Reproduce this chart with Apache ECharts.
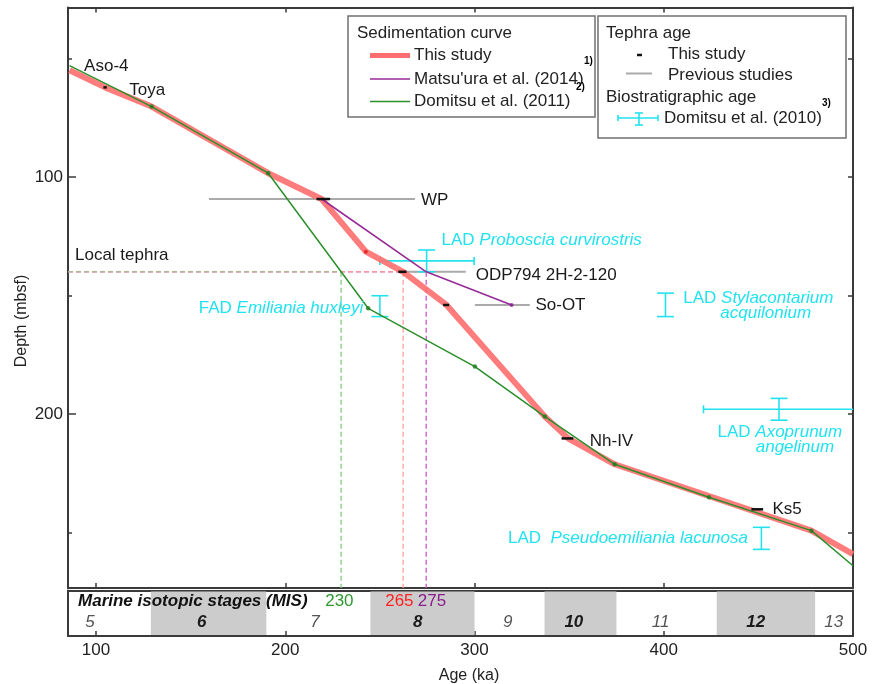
<!DOCTYPE html>
<html><head><meta charset="utf-8">
<script src="https://cdn.jsdelivr.net/npm/echarts@6/dist/echarts.min.js"></script>
<style>html,body{margin:0;padding:0;background:#fff}#c{width:874px;height:684px}</style>
</head><body><div id="c"></div>
<script>
// ---------------- data ----------------
const ageRange = [85.2, 500];
const depthRange = [28.5, 273.4];
const ageTicks = [100, 200, 300, 400];
const ageTickLabels = [100, 200, 300, 400, 500];
const depthMajorTicks = [100, 200];
const depthMinorTicks = [50, 150, 250];
const depthRightTicks = [50, 100, 150, 200, 250];

// sedimentation curves [age ka, depth mbsf]
const thisStudyCurve = [[86,55],[104.8,62.2],[129.4,70.3],[191,98.4],[219.2,109.3],[242.6,131.5],[262.3,140],[285.2,154],[337.2,201.1],[349.5,210.3],[374.1,221.2],[478,249.2],[500,259.1]];
const matsuuraCurve = [[219.2,109.3],[274.5,140],[319.6,154]];
const domitsuCurve = [[86,53],[129.4,70.3],[191,98.4],[243.8,155.4],[300.2,180],[337.2,201.1],[374.1,221.2],[423.9,235.1],[478,249.2],[500,264]];

// tephra ages, this study: [age, depth, half-range]
const tephraThisStudy = [[104.8,62.2,0.9],[220.1,109.3,3.6],[261.9,140,2.2],[285,154,1.6],[349.1,210.3,3.1],[449.4,240.2,3.1]];
// tephra ages, previous studies: [ageFrom, ageTo, depth]
const tephraPrevious = [[159.7,268.5,109.3],[262,295.4,140],[300.2,329.2,154]];
const tephraNames = ['Aso-4','Toya','WP','ODP794 2H-2-120','So-OT','Nh-IV','Ks5'];
const tephraLabelAge = [93.7,117.6,271.7,300.7,332.2,360.9,457.4];
const tephraLabelDepth = [53.5,63.3,109.7,141.4,154.3,211.4,240.2];

// local tephra
const localTephraDepth = 140;
const localTephraLabel = ['Local tephra', 88.9, 132.9];
const crossAges = [229.5, 262.3, 274.5];
const crossLabels = ['230','265','275'];
const crossLabelAges = [228.6, 260.3, 277.5];

// biostratigraphic ages: [age, depth, ageLo, ageHi, depthLo, depthHi]
const bioEvents = [
  [274.7,135.4,250,299.8,130.8,140],
  [250,154.5,250,250,150.1,158.9],
  [400.9,154,400.9,400.9,149,158.9],
  [460.9,198,421,500,193.4,202.6],
  [451.6,252.4,451.6,451.6,247.8,257.1]
];
const bioPrefix = ['LAD ','FAD ','LAD ','','LAD ','','LAD  '];
const bioTaxon = ['Proboscia curvirostris','Emiliania huxleyi','Stylacontarium','acquilonium','Axoprunum','angelinum','Pseudoemiliania lacunosa'];
const bioLabelAge = [282.6,241.2,410.3,429.9,428.4,448.6,444.5];
const bioLabelDepth = [126.6,155.2,151.2,157.5,207.9,214,252.4];
const bioLabelAlign = ['left','right','left','left','left','left','right'];

// marine isotope stages
const misShaded = [[129,190],[245,300],[337,375],[428,480]];
const misNames = ['5','6','7','8','9','10','11','12','13'];
const misCenters = [96.8,155.8,215.7,270,317.6,352.5,398.3,448.6,489.8];

// ---------------- chart ----------------
const FONT = "'Liberation Sans', Arial, Helvetica, sans-serif";
const AX = '#3a3a3a';
const RED = '#ff6e6e', PURPLE = '#982a98', GREEN = '#2b8f2b', GRAY = '#aaaaaa', CYAN = '#22e2f0';
const chart = echarts.init(document.getElementById('c'), null, {renderer:'canvas'});

function segSeries(segs, color, width, dash, z, opacity) {
  return {
    type:'custom', xAxisIndex:0, yAxisIndex:0, z:z, silent:true, data:segs,
    renderItem:(p, api)=>{
      const a = api.coord([api.value(0), api.value(1)]);
      const b = api.coord([api.value(2), api.value(3)]);
      return {type:'line', shape:{x1:a[0],y1:a[1],x2:b[0],y2:b[1]},
        style:{stroke:color, lineWidth:width, lineDash:dash||null, opacity:opacity==null?1:opacity}};
    }
  };
}

const crossColors = ['#7fc87f','#ff9c9c','#cc55cc'];
const crossSeries = [];
// draw purple first, green last so the overlapping horizontal dashes blend
[2,1,0].forEach(i=>{
  const a = crossAges[i];
  crossSeries.push(segSeries([[ageRange[0], localTephraDepth, a, localTephraDepth]], crossColors[i], 1.5, [5,3], 1, i===0?0.55:0.8));
  crossSeries.push(segSeries([[a, localTephraDepth, a, depthRange[1]]], crossColors[i], 1.5, [5,3], 1, 0.85));
});

const xBase = {type:'value', min:ageRange[0], max:ageRange[1], splitLine:{show:false},
  axisLine:{show:true, onZero:false, lineStyle:{color:AX, width:2}},
  axisTick:{show:true, inside:true, length:5, customValues:ageTicks, lineStyle:{color:AX, width:1.5}},
  axisLabel:{show:false}};
const yBase = {type:'value', inverse:true, min:depthRange[0], max:depthRange[1], splitLine:{show:false},
  axisLine:{show:true, onZero:false, lineStyle:{color:AX, width:2}},
  axisTick:{show:true, inside:true, length:5, lineStyle:{color:AX, width:1.5}},
  axisLabel:{show:false}};

const option = {
  animation:false,
  backgroundColor:'#fff',
  grid:[
    {left:68, top:7.5, width:785, height:580.5},
    {left:68, top:590.5, width:785, height:45.5}
  ],
  xAxis:[
    Object.assign({}, xBase, {gridIndex:0, position:'bottom'}),
    Object.assign({}, xBase, {gridIndex:0, position:'top'}),
    Object.assign({}, xBase, {gridIndex:1, position:'bottom',
      axisLabel:{show:true, customValues:ageTickLabels, fontSize:17, margin:6, color:'#222', fontFamily:FONT}}),
    Object.assign({}, xBase, {gridIndex:1, position:'top', axisTick:{show:false}})
  ],
  yAxis:[
    Object.assign({}, yBase, {gridIndex:0, position:'left',
      axisTick:{show:true, inside:true, length:8, customValues:depthMajorTicks, lineStyle:{color:AX, width:1.5}},
      axisLabel:{show:true, customValues:depthMajorTicks, fontSize:17, margin:5, color:'#222', fontFamily:FONT}}),
    Object.assign({}, yBase, {gridIndex:0, position:'left', axisLine:{show:false},
      axisTick:{show:true, inside:true, length:4, customValues:depthMinorTicks, lineStyle:{color:AX, width:1.5}}}),
    Object.assign({}, yBase, {gridIndex:0, position:'right',
      axisTick:{show:true, inside:true, length:5, customValues:depthRightTicks, lineStyle:{color:AX, width:1.5}}}),
    {gridIndex:1, type:'value', min:0, max:1, inverse:true, position:'left', splitLine:{show:false},
      axisLine:{show:true, lineStyle:{color:AX, width:2}}, axisTick:{show:false}, axisLabel:{show:false}},
    {gridIndex:1, type:'value', min:0, max:1, inverse:true, position:'right', splitLine:{show:false},
      axisLine:{show:true, lineStyle:{color:AX, width:2}}, axisTick:{show:false}, axisLabel:{show:false}}
  ],
  series:[
    // MIS shading
    {type:'custom', xAxisIndex:2, yAxisIndex:3, silent:true, z:1, data:misShaded,
      renderItem:(p, api)=>{
        const a = api.coord([api.value(0), 0]), b = api.coord([api.value(1), 1]);
        return {type:'rect', shape:{x:a[0], y:a[1]+1, width:b[0]-a[0], height:b[1]-a[1]-2}, style:{fill:'#cccccc'}};
      }},
    // MIS numbers
    {type:'custom', xAxisIndex:2, yAxisIndex:3, silent:true, z:3,
      data:misCenters.map((c,i)=>[c, i]),
      renderItem:(p, api)=>{
        const i = api.value(1);
        const pt = api.coord([api.value(0), 0.69]);
        const even = (parseInt(misNames[i]) % 2) === 0;
        return {type:'text', x:pt[0], y:pt[1], style:{text:misNames[i], fill: even ? '#1a1a1a' : '#555',
          fontSize:17, fontFamily:FONT, fontStyle:'italic', fontWeight: even ? 'bold' : 'normal', align:'center', verticalAlign:'middle'}};
      }},
    // MIS title and crossing ages
    {type:'custom', xAxisIndex:2, yAxisIndex:3, silent:true, z:3,
      data:[[ageRange[0], -1]].concat(crossLabelAges.map((a,i)=>[a, i])),
      renderItem:(p, api)=>{
        const i = api.value(1);
        if (i < 0) {
          const pt = api.coord([90.5, 0.23]);
          return {type:'text', x:pt[0], y:pt[1], style:{text:'Marine isotopic stages (MIS)', fill:'#111', fontSize:17,
            fontFamily:FONT, fontStyle:'italic', fontWeight:'bold', align:'left', verticalAlign:'middle'}};
        }
        const pt = api.coord([api.value(0), 0.23]);
        const cols = ['#2e9a2e','#ff2020','#8b1a8b'];
        return {type:'text', x:pt[0], y:pt[1], style:{text:crossLabels[i], fill:cols[i], fontSize:17,
          fontFamily:FONT, align:'center', verticalAlign:'middle'}};
      }},
    // local tephra dashed lines
    ...crossSeries,
    // previous studies tephra
    segSeries(tephraPrevious.map(t=>[t[0], t[2], t[1], t[2]]), GRAY, 2, null, 2),
    // biostratigraphic error bars
    {type:'custom', xAxisIndex:0, yAxisIndex:0, silent:true, z:2, data:bioEvents,
      renderItem:(p, api)=>{
        const age=api.value(0), dep=api.value(1), aLo=api.value(2), aHi=api.value(3), dLo=api.value(4), dHi=api.value(5);
        const kids = [];
        const st = {stroke:CYAN, lineWidth:1.6};
        if (aHi > aLo) {
          const l = api.coord([aLo, dep]), r = api.coord([aHi, dep]);
          kids.push({type:'line', shape:{x1:l[0],y1:l[1],x2:r[0],y2:r[1]}, style:st});
          kids.push({type:'line', shape:{x1:l[0],y1:l[1]-4,x2:l[0],y2:l[1]+4}, style:st});
          if (aHi < ageRange[1]) kids.push({type:'line', shape:{x1:r[0],y1:r[1]-4,x2:r[0],y2:r[1]+4}, style:st});
        }
        const t = api.coord([age, dLo]), b = api.coord([age, dHi]);
        kids.push({type:'line', shape:{x1:t[0],y1:t[1],x2:b[0],y2:b[1]}, style:st});
        kids.push({type:'line', shape:{x1:t[0]-8.5,y1:t[1],x2:t[0]+8.5,y2:t[1]}, style:st});
        kids.push({type:'line', shape:{x1:b[0]-8.5,y1:b[1],x2:b[0]+8.5,y2:b[1]}, style:st});
        return {type:'group', children:kids};
      }},
    // curves
    {type:'line', xAxisIndex:0, yAxisIndex:0, z:3, data:thisStudyCurve, symbol:'none', silent:true,
      lineStyle:{color:RED, width:6, opacity:0.9}},
    {type:'line', xAxisIndex:0, yAxisIndex:0, z:4, data:matsuuraCurve, symbol:'none', silent:true,
      lineStyle:{color:PURPLE, width:1.6}},
    {type:'line', xAxisIndex:0, yAxisIndex:0, z:4, data:domitsuCurve, symbol:'none', silent:true,
      lineStyle:{color:GREEN, width:1.5}},
    {type:'scatter', xAxisIndex:0, yAxisIndex:0, z:5, data:domitsuCurve.slice(1,-1), symbolSize:4.5, silent:true,
      itemStyle:{color:'#1d7a1d'}},
    {type:'scatter', xAxisIndex:0, yAxisIndex:0, z:5, data:[matsuuraCurve[matsuuraCurve.length-1]], symbolSize:4, silent:true,
      itemStyle:{color:'#8b1a8b'}},
    {type:'scatter', xAxisIndex:0, yAxisIndex:0, z:5, data:[thisStudyCurve[5]], symbolSize:4, silent:true,
      itemStyle:{color:'#e01818'}},
    // tephra this study
    segSeries(tephraThisStudy.map(t=>[t[0]-t[2], t[1], t[0]+t[2], t[1]]), '#111', 2.5, null, 6),
    // tephra labels
    {type:'custom', xAxisIndex:0, yAxisIndex:0, silent:true, z:7,
      data:tephraNames.map((n,i)=>[tephraLabelAge[i], tephraLabelDepth[i], i]).concat([[localTephraLabel[1], localTephraLabel[2], -1]]),
      renderItem:(p, api)=>{
        const i = api.value(2);
        const pt = api.coord([api.value(0), api.value(1)]);
        return {type:'text', x:pt[0], y:pt[1], style:{text: i<0 ? localTephraLabel[0] : tephraNames[i], fill:'#1a1a1a',
          fontSize:17, fontFamily:FONT, align:'left', verticalAlign:'middle'}};
      }},
    // bio labels
    {type:'custom', xAxisIndex:0, yAxisIndex:0, silent:true, z:7,
      data:bioTaxon.map((n,i)=>[bioLabelAge[i], bioLabelDepth[i], i]),
      renderItem:(p, api)=>{
        const i = api.value(2);
        const pt = api.coord([api.value(0), api.value(1)]);
        const txt = (bioPrefix[i] ? '{n|' + bioPrefix[i] + '}' : '') + '{t|' + bioTaxon[i] + '}';
        return {type:'text', x:pt[0], y:pt[1], style:{text:txt, fill:CYAN, fontSize:17, fontFamily:FONT,
          align:bioLabelAlign[i], verticalAlign:'middle',
          rich:{n:{fill:CYAN, fontSize:17, fontFamily:FONT}, t:{fill:CYAN, fontSize:17, fontFamily:FONT, fontStyle:'italic'}}}};
      }}
  ],
  graphic:[
    {type:'text', x:22, y:321, rotation:Math.PI/2, style:{text:'Depth (mbsf)', fill:'#222', fontSize:16, fontFamily:FONT, align:'center', verticalAlign:'middle'}},
    {type:'text', x:469, y:676, style:{text:'Age (ka)', fill:'#222', fontSize:16, fontFamily:FONT, align:'center', verticalAlign:'middle'}},
    // legend box 1
    {type:'rect', z:50, shape:{x:348, y:16, width:247, height:101}, style:{fill:'#fff', stroke:'#707070', lineWidth:1.5}},
    {type:'text', z:51, x:357, y:33, style:{text:'Sedimentation curve', fill:'#222', fontSize:17, fontFamily:FONT, verticalAlign:'middle'}},
    {type:'line', z:51, shape:{x1:370, y1:55.5, x2:410, y2:55.5}, style:{stroke:RED, lineWidth:5}},
    {type:'text', z:51, x:414, y:55, style:{text:'This study', fill:'#222', fontSize:17, fontFamily:FONT, verticalAlign:'middle'}},
    {type:'line', z:51, shape:{x1:370, y1:79, x2:410, y2:79}, style:{stroke:PURPLE, lineWidth:1.5}},
    {type:'text', z:51, x:414, y:79, style:{text:"Matsu'ura et al. (2014)", fill:'#222', fontSize:17, fontFamily:FONT, verticalAlign:'middle'}},
    {type:'line', z:51, shape:{x1:370, y1:101.5, x2:410, y2:101.5}, style:{stroke:GREEN, lineWidth:1.5}},
    {type:'text', z:51, x:414, y:101, style:{text:'Domitsu et al. (2011)', fill:'#222', fontSize:17, fontFamily:FONT, verticalAlign:'middle'}},
    {type:'text', z:52, x:584, y:61, style:{text:'1)', fill:'#000', fontSize:10, fontWeight:'bold', fontFamily:FONT, verticalAlign:'middle'}},
    {type:'text', z:52, x:576, y:87, style:{text:'2)', fill:'#000', fontSize:10, fontWeight:'bold', fontFamily:FONT, verticalAlign:'middle'}},
    // legend box 2
    {type:'rect', z:50, shape:{x:598, y:16, width:248, height:122}, style:{fill:'#fff', stroke:'#707070', lineWidth:1.5}},
    {type:'text', z:51, x:606, y:33, style:{text:'Tephra age', fill:'#222', fontSize:17, fontFamily:FONT, verticalAlign:'middle'}},
    {type:'line', z:51, shape:{x1:637, y1:55, x2:642, y2:55}, style:{stroke:'#111', lineWidth:2.5}},
    {type:'text', z:51, x:668, y:54, style:{text:'This study', fill:'#222', fontSize:17, fontFamily:FONT, verticalAlign:'middle'}},
    {type:'line', z:51, shape:{x1:626, y1:73.5, x2:652, y2:73.5}, style:{stroke:GRAY, lineWidth:2}},
    {type:'text', z:51, x:668, y:75, style:{text:'Previous studies', fill:'#222', fontSize:17, fontFamily:FONT, verticalAlign:'middle'}},
    {type:'text', z:51, x:606, y:97, style:{text:'Biostratigraphic age', fill:'#222', fontSize:17, fontFamily:FONT, verticalAlign:'middle'}},
    {type:'text', z:52, x:822, y:103, style:{text:'3)', fill:'#000', fontSize:10, fontWeight:'bold', fontFamily:FONT, verticalAlign:'middle'}},
    {type:'line', z:51, shape:{x1:618, y1:118, x2:658, y2:118}, style:{stroke:CYAN, lineWidth:1.6}},
    {type:'line', z:51, shape:{x1:618, y1:115, x2:618, y2:121}, style:{stroke:CYAN, lineWidth:1.6}},
    {type:'line', z:51, shape:{x1:658, y1:115, x2:658, y2:121}, style:{stroke:CYAN, lineWidth:1.6}},
    {type:'line', z:51, shape:{x1:639, y1:113, x2:639, y2:125}, style:{stroke:CYAN, lineWidth:1.6}},
    {type:'line', z:51, shape:{x1:635, y1:113, x2:643, y2:113}, style:{stroke:CYAN, lineWidth:1.6}},
    {type:'line', z:51, shape:{x1:635, y1:125, x2:643, y2:125}, style:{stroke:CYAN, lineWidth:1.6}},
    {type:'text', z:51, x:664, y:118, style:{text:'Domitsu et al. (2010)', fill:'#222', fontSize:17, fontFamily:FONT, verticalAlign:'middle'}}
  ]
};
chart.setOption(option);
</script></body></html>
